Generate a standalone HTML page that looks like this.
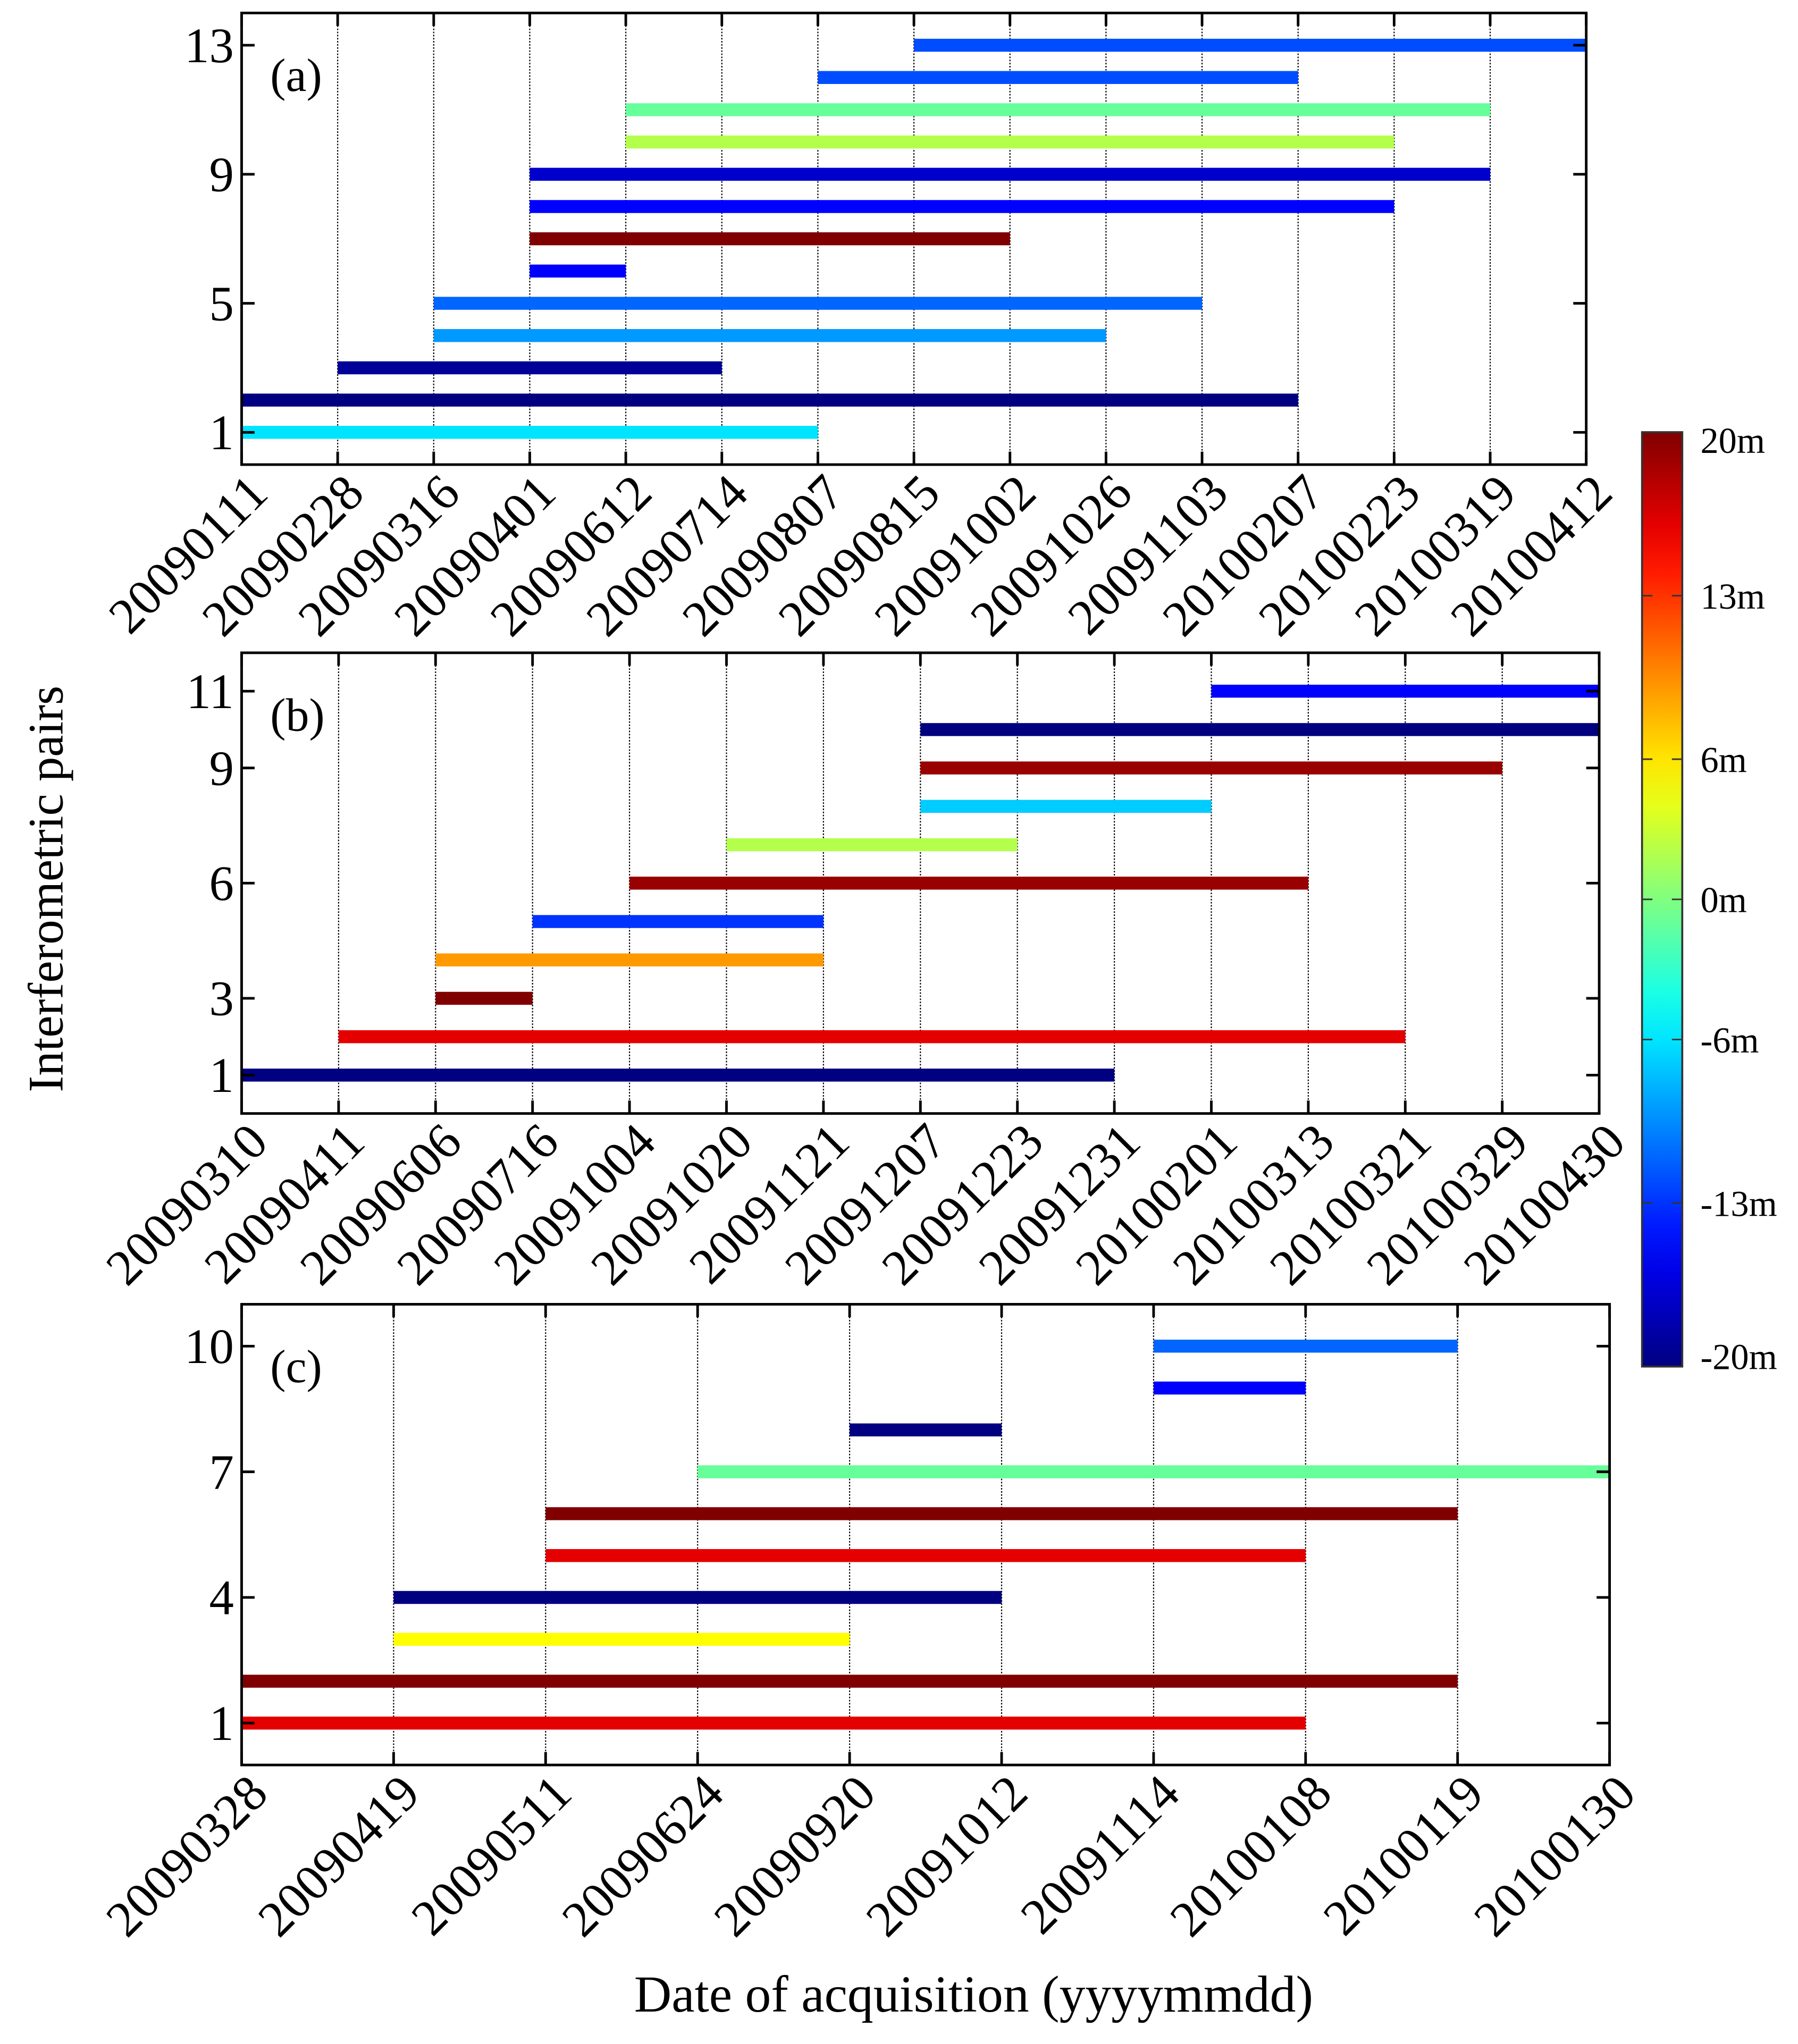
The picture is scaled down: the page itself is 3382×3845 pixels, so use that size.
<!DOCTYPE html>
<html><head><meta charset="utf-8"><style>
html,body{margin:0;padding:0;background:#fff}
svg{display:block}
text{font-family:"Liberation Serif",serif;fill:#000}
</style></head><body>
<svg id="fig" width="3382" height="3845" viewBox="0 0 1385 1575" xmlns="http://www.w3.org/2000/svg">
<g id="root"></g>
</svg>
<script>
// Panel (a)
const datesA = ["20090111","20090228","20090316","20090401","20090612","20090714","20090807","20090815","20091002","20091026","20091103","20100207","20100223","20100319","20100412"];
const startA = [0,0,1,2,2,3,3,3,3,4,4,6,7];
const endA   = [6,11,5,9,10,4,8,12,13,12,13,11,14];
const valA   = [-6,-20,-19,-9,-11,-15,20,-15,-17,2,-1,-12,-12];
const ticksA = [1,5,9,13];
// Panel (b)
const datesB = ["20090310","20090411","20090606","20090716","20091004","20091020","20091121","20091207","20091223","20091231","20100201","20100313","20100321","20100329","20100430"];
const startB = [0,1,2,2,3,4,5,7,7,7,10];
const endB   = [9,12,3,6,6,11,8,10,13,14,14];
const valB   = [-20,16,20,9,-13,19,2,-7,19,-20,-15];
const ticksB = [1,3,6,9,11];
// Panel (c)
const datesC = ["20090328","20090419","20090511","20090624","20090920","20091012","20091114","20100108","20100119","20100130"];
const startC = [0,0,1,1,2,2,3,4,6,6];
const endC   = [7,8,4,5,7,8,9,5,7,8];
const valC   = [16,20,5,-20,16,20,-1,-20,-15,-11];
const ticksC = [1,4,7,10];
const cbTicks = [20,13,6,0,-6,-13,-20];

const NS="http://www.w3.org/2000/svg";
const root=document.getElementById('root');
function el(tag,attrs,parent){const e=document.createElementNS(NS,tag);for(const k in attrs)e.setAttribute(k,attrs[k]);(parent||root).appendChild(e);return e;}
function jet(v){let t=(v+20)/40;t=Math.max(0,Math.min(1,t));
 const f=x=>Math.max(0,Math.min(1,x));
 const r=f(Math.min(4*t-1.5,-4*t+4.5)),g=f(Math.min(4*t-0.5,-4*t+3.5)),b=f(Math.min(4*t+0.5,-4*t+2.5));
 return `rgb(${Math.round(r*255)},${Math.round(g*255)},${Math.round(b*255)})`;}

function panel(cfg){
 const {id,L,R,T,B,dates,starts,ends,vals,ticks,ymax,label}=cfg;
 const g=el('g',{});
 
 
 const n=dates.length-1;
 const xs=i=>L+(R-L)*i/n;
 const ys=v=>B-(B-T)*v/ymax;
 for(let i=1;i<n;i++){
  const l=el('line',{x1:xs(i),x2:xs(i),y1:T,y2:B,stroke:'#000','stroke-width':0.9,'stroke-dasharray':'1.2 1.2'},g);
  
  
 }
 for(let k=0;k<vals.length;k++){
  const y=ys(k+1);
  const r=el('rect',{x:xs(starts[k]),y:y-5,width:xs(ends[k])-xs(starts[k]),height:10,fill:jet(vals[k])},g);
  
  
 }
 const fr=el('rect',{x:L,y:T,width:R-L,height:B-T,fill:'none',stroke:'#000','stroke-width':2},g);
 
 
 ticks.forEach(v=>{
  const y=ys(v);
  el('line',{x1:L,x2:L+10,y1:y,y2:y,stroke:'#000','stroke-width':2},g);
  el('line',{x1:R,x2:R-10,y1:y,y2:y,stroke:'#000','stroke-width':2},g);
  const t=el('text',{x:L-6,y:y+13,'text-anchor':'end','font-size':38},g);
  t.textContent=v;
  
  
 });
 dates.forEach((d,i)=>{
  const x=xs(i);
  el('line',{x1:x,x2:x,y1:B,y2:B-10,stroke:'#000','stroke-width':2},g);
  el('line',{x1:x,x2:x,y1:T,y2:T+10,stroke:'#000','stroke-width':2},g);
  const ax=x+22, ay=B+24;
  const t=el('text',{x:ax,y:ay,'text-anchor':'end','font-size':39,transform:`rotate(-45 ${ax} ${ay})`},g);
  t.textContent=d;
  
  
 });
 const pl=el('text',{x:L+22,y:T+60,'font-size':36},g);
 pl.textContent=label;
 
 
}

panel({id:'a',L:186,R:1222,T:10,B:358,dates:datesA,starts:startA,ends:endA,vals:valA,ticks:ticksA,ymax:14,label:'(a)'});
panel({id:'b',L:186,R:1232,T:503,B:858,dates:datesB,starts:startB,ends:endB,vals:valB,ticks:ticksB,ymax:12,label:'(b)'});
panel({id:'c',L:186,R:1240,T:1005,B:1360,dates:datesC,starts:startC,ends:endC,vals:valC,ticks:ticksC,ymax:11,label:'(c)'});

const cb=el('g',{});


const cbL=1265,cbR=1296,cbT=333,cbB=1053;
const defs=el('defs',{},cb);
const gr=el('linearGradient',{id:'jetg',x1:0,y1:1,x2:0,y2:0},defs);
for(let i=0;i<=20;i++){const v=-20+40*i/20;el('stop',{offset:i/20,'stop-color':jet(v)},gr);}
el('rect',{x:cbL,y:cbT,width:cbR-cbL,height:cbB-cbT,fill:'url(#jetg)',stroke:'#333','stroke-width':1.5},cb);
const cy=v=>cbB-(cbB-cbT)*(v+20)/40;
cbTicks.forEach(v=>{
 const y=cy(v);
 if(v!==20&&v!==-20){
  el('line',{x1:cbL,x2:cbL+8,y1:y,y2:y,stroke:'#333','stroke-width':1.2},cb);
  el('line',{x1:cbR,x2:cbR-8,y1:y,y2:y,stroke:'#333','stroke-width':1.2},cb);
 }
 const ty=v===20?cbT+16:(v===-20?cbB+2:y+10);
 const t=el('text',{x:cbR+14,y:ty,'font-size':28},cb);
 t.textContent=v+'m';
 
 
});

const yt=el('text',{x:48,y:685,'text-anchor':'middle','font-size':38,transform:'rotate(-90 48 685)'});
yt.textContent='Interferometric pairs';


const xt=el('text',{x:750,y:1550,'text-anchor':'middle','font-size':40});
xt.textContent='Date of acquisition (yyyymmdd)';


</script>
</body></html>
